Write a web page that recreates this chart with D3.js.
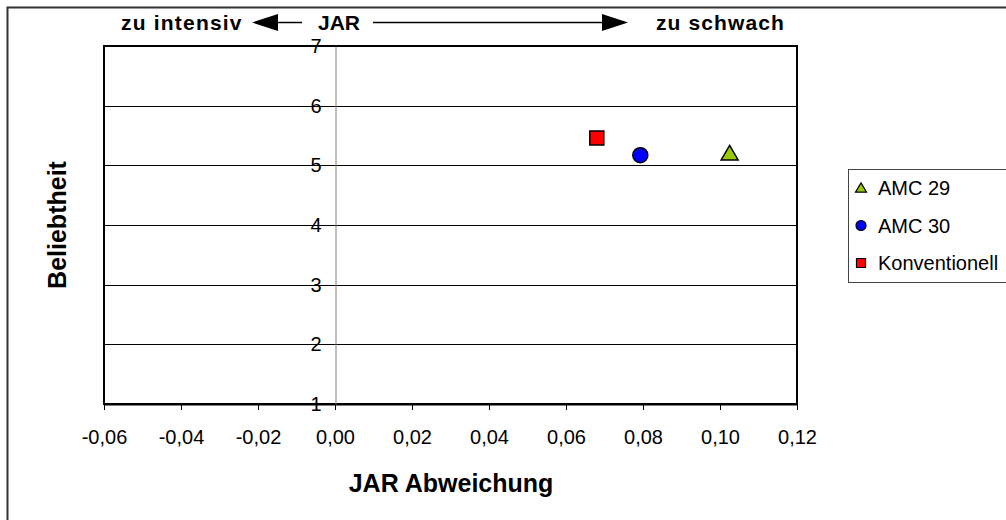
<!DOCTYPE html>
<html>
<head>
<meta charset="utf-8">
<script src="https://cdn.jsdelivr.net/npm/d3@7"></script>
<style>
  html, body { margin: 0; padding: 0; background: #fff; }
  svg { display: block; font-family: "Liberation Sans", Arial, sans-serif; }
</style>
</head>
<body>
<svg id="chart" width="1006" height="520"></svg>
<script>
// Sample labels and their coordinates: JAR deviation (x) vs. liking (y)
const series = ["AMC 29", "AMC 30", "Konventionell"];
const jarValues = [0.1025, 0.0793, 0.068];
const likingValues = [5.2, 5.17, 5.46];
const markerShapes = ["triangle", "circle", "square"];
const markerColors = ["#99cc00", "#0000ff", "#ff0000"];

const xTicks = [-0.06, -0.04, -0.02, 0.00, 0.02, 0.04, 0.06, 0.08, 0.10, 0.12];
const yTicks = [1, 2, 3, 4, 5, 6, 7];

const svg = d3.select("#chart");

// outer chart frame
svg.append("rect")
  .attr("x", 7.5).attr("y", 7.5)
  .attr("width", 1020).attr("height", 530)
  .attr("fill", "none").attr("stroke", "#333").attr("stroke-width", 2);

const plot = { left: 104, right: 797, top: 46, bottom: 404 };

const x = d3.scaleLinear().domain([-0.06, 0.12]).range([plot.left, plot.right]);
const y = d3.scaleLinear().domain([1, 7]).range([plot.bottom, plot.top]);

const fmt = d => d3.format(".2f")(d).replace(".", ",").replace("−", "-");

// horizontal gridlines
svg.append("g")
  .selectAll("line")
  .data(yTicks.filter(v => v > 1 && v < 7))
  .join("line")
  .attr("x1", plot.left).attr("x2", plot.right)
  .attr("y1", d => Math.round(y(d)) + 0.5).attr("y2", d => Math.round(y(d)) + 0.5)
  .attr("stroke", "#000").attr("stroke-width", 1);

// plot area border
svg.append("rect")
  .attr("x", plot.left).attr("y", plot.top)
  .attr("width", plot.right - plot.left).attr("height", plot.bottom - plot.top)
  .attr("fill", "none").attr("stroke", "#000").attr("stroke-width", 2);

// x axis along the bottom
const xAxis = svg.append("g")
  .attr("transform", `translate(0,${plot.bottom})`)
  .call(d3.axisBottom(x).tickValues(xTicks).tickFormat(fmt).tickSize(6).tickSizeOuter(0));
xAxis.select(".domain").attr("stroke", "#000").attr("stroke-width", 2);
xAxis.selectAll(".tick line").attr("stroke", "#000");
xAxis.selectAll(".tick text")
  .attr("font-size", 20).attr("fill", "#000")
  .attr("y", 40).attr("dy", 0)
  .style("font-family", "'Liberation Sans', Arial, sans-serif");

// y axis crossing at x = 0
const yAxis = svg.append("g")
  .attr("transform", `translate(${Math.round(x(0)) + 0.5},0)`)
  .call(d3.axisLeft(y).tickValues(yTicks).tickFormat(d3.format("d")).tickSize(0).tickPadding(14));
yAxis.select(".domain").attr("stroke", "#808080").attr("stroke-width", 1);
yAxis.selectAll(".tick text")
  .attr("font-size", 20).attr("fill", "#000")
  .style("font-family", "'Liberation Sans', Arial, sans-serif");

// axis titles
svg.append("text")
  .attr("x", 451).attr("y", 492)
  .attr("text-anchor", "middle")
  .attr("font-size", 25).attr("font-weight", "bold")
  .text("JAR Abweichung");

svg.append("text")
  .attr("transform", "translate(66,225) rotate(-90)")
  .attr("text-anchor", "middle")
  .attr("font-size", 25).attr("font-weight", "bold")
  .text("Beliebtheit");

// direction annotation above the plot
const ann = svg.append("g").attr("font-size", 21).attr("font-weight", "bold");
ann.append("text").attr("x", 121).attr("y", 30).attr("letter-spacing", 1.2).text("zu intensiv");
ann.append("text").attr("x", 318).attr("y", 30).text("JAR");
ann.append("text").attr("x", 656).attr("y", 30).attr("letter-spacing", 1.1).text("zu schwach");

// left arrow
ann.append("line").attr("x1", 276).attr("x2", 302).attr("y1", 22.5).attr("y2", 22.5)
  .attr("stroke", "#000").attr("stroke-width", 1.5);
ann.append("path").attr("d", "M252,22.5 L278,14 L278,31 Z").attr("fill", "#000");
// right arrow
ann.append("line").attr("x1", 373).attr("x2", 604).attr("y1", 22.5).attr("y2", 22.5)
  .attr("stroke", "#000").attr("stroke-width", 1.5);
ann.append("path").attr("d", "M628,22.5 L602,14 L602,31 Z").attr("fill", "#000");

// marker shapes
function markerPath(shape, size) {
  const s = size / 2;
  if (shape === "triangle") {
    const h = size * 0.85;
    return `M0,${-h * 0.55} L${s},${h * 0.45} L${-s},${h * 0.45} Z`;
  }
  if (shape === "square") return `M${-s},${-s} H${s} V${s} H${-s} Z`;
  return d3.symbol(d3.symbolCircle, Math.PI * s * s)();
}

const points = series.map((name, i) => ({
  name, xv: jarValues[i], yv: likingValues[i], shape: markerShapes[i], color: markerColors[i]
}));

svg.append("g")
  .selectAll("path")
  .data(points)
  .join("path")
  .attr("transform", d => `translate(${x(d.xv)},${y(d.yv)})`)
  .attr("d", d => markerPath(d.shape, d.shape === "triangle" ? 17 : (d.shape === "square" ? 14 : 15)))
  .attr("fill", d => d.color)
  .attr("stroke", "#000").attr("stroke-width", 1.5);

// legend
const legend = svg.append("g");
legend.append("rect")
  .attr("x", 848.5).attr("y", 169.5)
  .attr("width", 200).attr("height", 113)
  .attr("fill", "#fff").attr("stroke", "#444").attr("stroke-width", 1);

const legendY = d3.scalePoint().domain(series).range([188, 263]);
const items = legend.selectAll("g.item").data(points).join("g")
  .attr("class", "item")
  .attr("transform", d => `translate(861,${legendY(d.name)})`);
items.append("path")
  .attr("d", d => markerPath(d.shape, d.shape === "triangle" ? 11 : (d.shape === "square" ? 9 : 10)))
  .attr("fill", d => d.color)
  .attr("stroke", "#000").attr("stroke-width", 1.2);
items.append("text")
  .attr("x", 17).attr("dy", "0.36em")
  .attr("font-size", 20)
  .text(d => d.name);
</script>
</body>
</html>
